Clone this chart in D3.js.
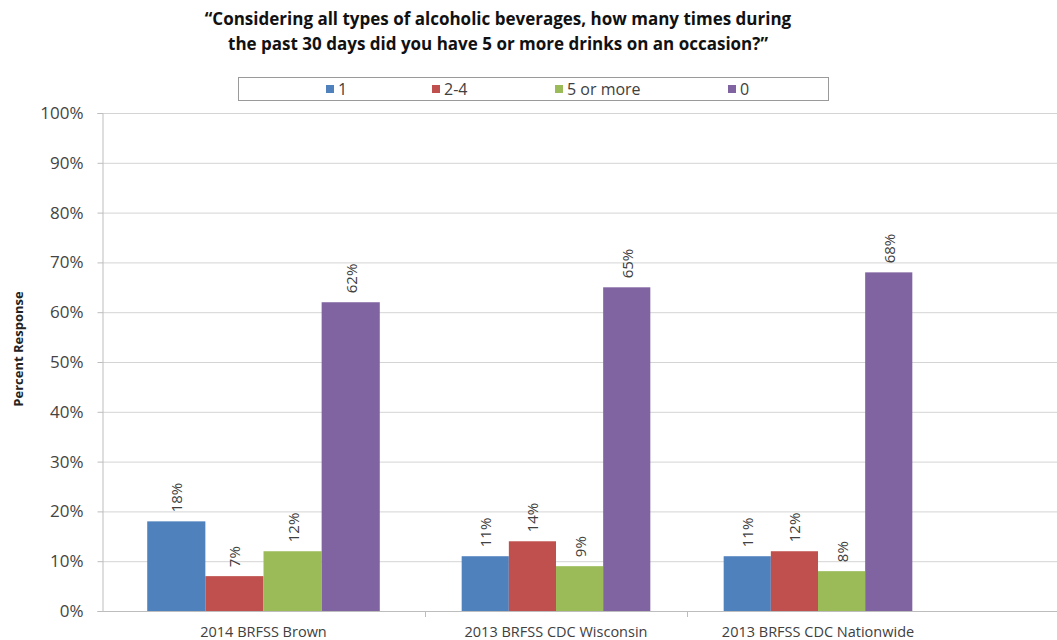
<!DOCTYPE html>
<html>
<head>
<meta charset="utf-8">
<script src="https://cdn.jsdelivr.net/npm/d3@7"></script>
<style>
  html, body { margin: 0; padding: 0; background: #fff; }
  svg { display: block; }
</style>
</head>
<body>
<svg id="chart" width="1057" height="640"></svg>
<script>
// Survey groups, response categories and their shares (percent)
const groups = ["2014 BRFSS Brown", "2013 BRFSS CDC Wisconsin", "2013 BRFSS CDC Nationwide"];
const responses = ["1", "2-4", "5 or more", "0"];
const valuesOne = [18, 11, 11];
const valuesTwoToFour = [7, 14, 12];
const valuesFivePlus = [12, 9, 8];
const valuesZero = [62, 65, 68];
const yTicks = [0, 10, 20, 30, 40, 50, 60, 70, 80, 90, 100];
const colors = ["#4F81BD", "#C0504D", "#9BBB59", "#8064A2"];

const series = [valuesOne, valuesTwoToFour, valuesFivePlus, valuesZero];

const svg = d3.select("#chart");
const fontFamily = "'Open Sans', 'Liberation Sans', sans-serif";

// Vertical scale: 0-100%
const y = d3.scaleLinear().domain([0, 100]).range([611, 113]);

// Horizontal scale over group slots (each group occupies one unit)
const x = d3.scaleLinear().domain([0, 1, 2, 3]).range([102, 425, 687, 949]);
const innerStart = 0.14, barUnit = 0.18;

// Gridlines
svg.append("g").selectAll("line").data(yTicks).join("line")
  .attr("x1", 102).attr("x2", 1057)
  .attr("y1", d => y(d) + 0.5).attr("y2", d => y(d) + 0.5)
  .attr("stroke", "#d4d4d4").attr("stroke-width", 1);

// Y axis
const yAxis = d3.axisLeft(y).tickValues(yTicks).tickFormat(d => d + "%").tickSize(5).tickPadding(14);
const yG = svg.append("g").attr("transform", "translate(102.5,0)").call(yAxis);
yG.select(".domain").attr("stroke", "#bdbdbd");
yG.selectAll(".tick line").attr("stroke", "#bdbdbd");
yG.selectAll(".tick text").attr("fill", "#444").style("font-family", fontFamily).style("font-size", "17px");

// Category axis baseline and separators
svg.append("line").attr("x1", 102).attr("x2", 1057).attr("y1", y(0) + 0.5).attr("y2", y(0) + 0.5)
  .attr("stroke", "#bdbdbd");
svg.append("g").selectAll("line").data([1, 2]).join("line")
  .attr("x1", d => Math.round(x(d)) + 0.5).attr("x2", d => Math.round(x(d)) + 0.5)
  .attr("y1", y(0)).attr("y2", y(0) + 6)
  .attr("stroke", "#bdbdbd");

// Bars
const barData = [];
series.forEach((vals, s) => vals.forEach((v, g) => barData.push({ g, s, v })));
const bx0 = d => x(d.g + innerStart + d.s * barUnit);
const bx1 = d => x(d.g + innerStart + (d.s + 1) * barUnit);

svg.append("g").selectAll("rect").data(barData).join("rect")
  .attr("x", bx0)
  .attr("width", d => bx1(d) - bx0(d))
  .attr("y", d => y(d.v))
  .attr("height", d => y(0) - y(d.v))
  .attr("fill", d => colors[d.s]);

// Value labels, rotated
svg.append("g").selectAll("text").data(barData).join("text")
  .attr("transform", d => `translate(${(bx0(d) + bx1(d)) / 2 + 6},${y(d.v) - 9}) rotate(-90)`)
  .attr("text-anchor", "start")
  .style("font-family", fontFamily).style("font-size", "15px")
  .attr("fill", "#404040")
  .text(d => d.v + "%");

// Category labels
svg.append("g").selectAll("text").data(groups).join("text")
  .attr("x", (d, i) => x(i + 0.5))
  .attr("y", 637)
  .attr("text-anchor", "middle")
  .style("font-family", fontFamily).style("font-size", "14.5px")
  .attr("fill", "#404040")
  .text(d => d);

// Y axis title
svg.append("text")
  .attr("transform", "translate(23,349) rotate(-90)")
  .attr("text-anchor", "middle")
  .style("font-family", fontFamily).style("font-size", "13px").style("font-weight", "bold")
  .attr("fill", "#222")
  .text("Percent Response");

// Title
const titleLines = [
  "\u201cConsidering all types of alcoholic beverages, how many times during",
  "the past 30 days did you have 5 or more drinks on an occasion?\u201d"
];
svg.append("g").selectAll("text").data(titleLines).join("text")
  .attr("x", 498).attr("y", (d, i) => 25 + i * 25)
  .attr("text-anchor", "middle")
  .style("font-family", fontFamily).style("font-size", "17px").style("font-weight", "bold")
  .attr("fill", "#111")
  .text(d => d);

// Legend
const legend = svg.append("g");
legend.append("rect").attr("x", 238.5).attr("y", 77.5).attr("width", 590).attr("height", 23)
  .attr("fill", "#fff").attr("stroke", "#9a9a9a");
const legendX = [326, 432, 555, 728];
const items = legend.selectAll("g").data(responses).join("g")
  .attr("transform", (d, i) => `translate(${legendX[i]},89)`);
items.append("rect").attr("x", 0).attr("y", -4).attr("width", 8).attr("height", 8)
  .attr("fill", (d, i) => colors[i]);
items.append("text").attr("x", 12).attr("y", 6)
  .style("font-family", fontFamily).style("font-size", "16px")
  .attr("fill", "#404040")
  .text(d => d);
</script>
</body>
</html>
